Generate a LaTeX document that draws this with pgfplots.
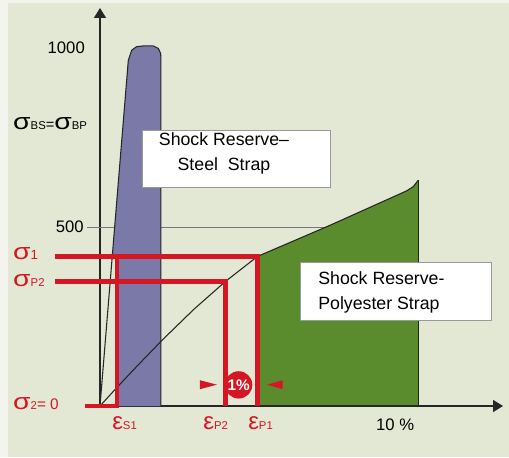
\documentclass[border=0pt]{standalone}
\usepackage{graphicx}
\usepackage{pgfplots}
\pgfplotsset{compat=1.18}
\usepackage{fontspec}
\setmainfont{Liberation Sans}
\usetikzlibrary{arrows.meta}
\definecolor{bgpanel}{RGB}{226,232,212}
\definecolor{bgleft}{RGB}{244,244,238}
\definecolor{steelc}{RGB}{123,121,168}
\definecolor{polyc}{RGB}{90,140,45}
\definecolor{redc}{RGB}{213,22,35}
\definecolor{gridc}{RGB}{120,120,120}
\newcommand{\bigsig}{\scalebox{1.25}[1]{\fontsize{17}{17}\selectfont σ}}
\newcommand{\sub}[1]{{\fontsize{8.5}{8.5}\selectfont #1}}
\newcommand{\bigeps}{{\fontsize{18}{18}\selectfont ε}}
\begin{document}
\begin{tikzpicture}
\fill[bgleft] (0,0) rectangle (381.75pt,342.75pt);
\fill[bgpanel] (6pt,0) rectangle (381.75pt,340.5pt);
\useasboundingbox (0,0) rectangle (381.75pt,342.75pt);
\begin{axis}[at={(75pt,38.25pt)},anchor=south west,scale only axis,
  width=302.25pt,height=298.5pt,
  xmin=0,xmax=13.75,ymin=0,ymax=1112,
  axis lines=left, ticks=none, clip=false,
  axis line style={line width=1.1pt,color=black!85},
  x axis line style={-{Triangle[length=7.5pt,width=9pt]}},
  y axis line style={-{Triangle[length=7.5pt,width=9pt]}},
]
% 500 grid line
\addplot[gridc,line width=0.75pt] coordinates {(-0.44,500) (7.85,500)};
% steel area
\addplot[fill=steelc,draw=none] coordinates {(0.58,0) (0.58,418) (0.418,418) (0.966,966) (1.08,994) (1.25,1004) (1.48,1006) (1.82,1006) (1.99,999) (2.07,985) (2.08,966) (2.08,0)} -- cycle;
\addplot[black!85,line width=0.8pt] coordinates {(0,0) (0.966,966) (1.08,994) (1.25,1004) (1.48,1006) (1.82,1006) (1.99,999) (2.07,985) (2.08,966) (2.08,0)};
% polyester area
\addplot[fill=polyc,draw=none] coordinates {(5.375,0) (5.375,418) (7.85,505) (10.46,601) (10.69,613) (10.86,631) (10.86,0)} -- cycle;
\addplot[black!85,line width=0.8pt] coordinates {(0,0) (0.5,45) (1.13,100) (2.12,184) (3.2,270) (4.28,348) (5.375,418) (7.85,505) (10.46,601) (10.69,613) (10.86,631)};
\addplot[black!70!polyc,line width=0.7pt] coordinates {(10.86,631) (10.86,0)};
\addplot[black!85,line width=1.1pt] coordinates {(2.08,0) (10.9,0)};
% red reference lines
\addplot[redc,line width=3.6pt,line join=miter] coordinates {(-1.54,418) (5.375,418) (5.375,0)};
\addplot[redc,line width=3.6pt,line join=miter] coordinates {(-1.54,348) (4.28,348) (4.28,0)};
\addplot[redc,line width=3.6pt] coordinates {(0.58,0) (0.58,418)};
\addplot[redc,line width=3.6pt] coordinates {(-0.51,0) (0.65,0)};
% 1% marker
\addplot[fill=redc,draw=none] coordinates {(3.41,47) (3.41,72) (3.99,59.5)} -- cycle;
\addplot[fill=redc,draw=none] coordinates {(6.23,47) (6.23,72) (5.70,59.5)} -- cycle;
\node[circle,fill=redc,minimum size=20.5pt,inner sep=0pt,text=white,font=\bfseries\fontsize{11.5}{11.5}\selectfont] at (axis cs:4.73,59) {1\%};
% boxes
\draw[gray!80,fill=white,line width=0.6pt] (axis cs:1.43,612) rectangle (axis cs:7.85,771);
\node[align=center,inner sep=0pt,font=\fontsize{13.3}{19}\selectfont] at (axis cs:4.23,705) {Shock Reserve–\\Steel\ \ Strap};
\draw[gray!80,fill=white,line width=0.6pt] (axis cs:6.83,240) rectangle (axis cs:13.34,402);
\node[align=left,anchor=west,inner sep=0pt,font=\fontsize{13.3}{18.5}\selectfont] at (axis cs:7.44,318) {Shock Reserve-\\Polyester Strap};
% y labels
\node[anchor=east,inner sep=0pt,font=\fontsize{12.5}{12.5}\selectfont] at (axis cs:-0.51,1000) {1000};
\node[anchor=east,inner sep=0pt,font=\fontsize{12.5}{12.5}\selectfont] at (axis cs:-0.55,500) {500};
\node[anchor=west,inner sep=0pt] at (axis cs:-2.97,790) {\bigsig\sub{BS}{\fontsize{11}{11}\selectfont =}\bigsig\sub{BP}};
\node[anchor=west,inner sep=0pt,text=redc] at (axis cs:-2.97,427) {\bigsig{\fontsize{10}{10}\selectfont 1}};
\node[anchor=west,inner sep=0pt,text=redc] at (axis cs:-2.97,349) {\bigsig\sub{P2}};
\node[anchor=west,inner sep=0pt,text=redc] at (axis cs:-2.97,8) {\bigsig\sub{2}{\fontsize{11.5}{11.5}\selectfont = 0}};
% x labels
\node[anchor=west,inner sep=0pt,text=redc] at (axis cs:0.41,-49) {\bigeps\sub{S1}};
\node[anchor=west,inner sep=0pt,text=redc] at (axis cs:3.52,-49) {\bigeps\sub{P2}};
\node[anchor=west,inner sep=0pt,text=redc] at (axis cs:5.05,-49) {\bigeps\sub{P1}};
\node[inner sep=0pt,font=\fontsize{12.5}{12.5}\selectfont] at (axis cs:10.07,-53) {10 \%};
\end{axis}
\end{tikzpicture}
\end{document}
